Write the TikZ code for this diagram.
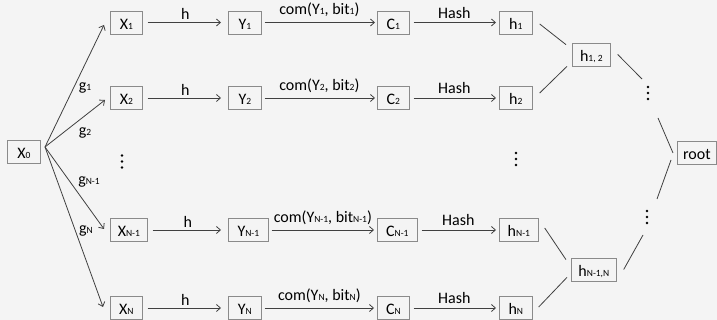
\documentclass[tikz,border=0pt]{standalone}
\usepackage{fontspec}
\setmainfont{Carlito}
\usetikzlibrary{arrows.meta}

\definecolor{bgcol}{HTML}{F4F4F4}
\definecolor{boxcol}{HTML}{8A8A8A}
\definecolor{arrcol}{HTML}{404040}

\newcommand{\sub}[1]{{\fontsize{9.5}{11}\selectfont #1}}

\tikzset{
  box/.style={draw=boxcol, line width=0.7pt, anchor=west, minimum width=32pt,
    inner xsep=5pt, inner ysep=0pt, minimum height=23pt, text height=13.5pt, text depth=0pt},
  arr/.style={draw=arrcol, line width=0.8pt, -{Straight Barb[length=4pt,width=7pt]}},
  tline/.style={draw=arrcol, line width=0.8pt},
  lbl/.style={anchor=base, inner sep=0pt},
  vdts/.pic={\fill (0,6) circle (1.3) (0,0) circle (1.3) (0,-6) circle (1.3);},
}

\begin{document}
\begin{tikzpicture}[x=1pt, y=1pt, font=\fontsize{16}{19}\selectfont]

\useasboundingbox[fill=bgcol] (0,0) rectangle (717,320);

% Define nodes
\path (7,168.5) node[box, minimum width=33pt] (X0) {X\sub{0}}
(110,297.5) node[box] (X1) {X\sub{1}}
(110,222) node[box] (X2) {X\sub{2}}
(110,90) node[box, minimum width=37pt] (X3) {X\sub{N-1}}
(110,12) node[box] (X4) {X\sub{N}}
(228,297.5) node[box, minimum width=33pt] (Y1) {Y\sub{1}}
(228,222) node[box, minimum width=33pt] (Y2) {Y\sub{2}}
(228,90) node[box, minimum width=40pt] (Y3) {Y\sub{N-1}}
(228,12) node[box, minimum width=33pt] (Y4) {Y\sub{N}}
(377,297.5) node[box] (C1) {C\sub{1}}
(377,222) node[box] (C2) {C\sub{2}}
(377,90) node[box, minimum width=40pt] (C3) {C\sub{N-1}}
(377,12) node[box] (C4) {C\sub{N}}
(499,297.5) node[box, minimum width=33pt] (h1) {h\sub{1}}
(499,222) node[box, minimum width=33pt] (h2) {h\sub{2}}
(499,90) node[box, minimum width=39pt] (h3) {h\sub{N-1}}
(499,12) node[box, minimum width=33pt] (h4) {h\sub{N}}
(572,265.5) node[box, minimum width=38pt] (h12) {h\sub{1, 2}}
(571,50.5) node[box, minimum width=45pt] (hNN) {h\sub{N-1,N}}
(677,167) node[box, minimum width=39pt] (root) {root}
;

% Dots
\path (122,158.5) coordinate (dotsA) pic {vdts}
(516,161) coordinate (dotsB) pic {vdts}
(648,227) coordinate (dotsU) pic {vdts}
(647,103) coordinate (dotsL) pic {vdts};

% Fan out of X0
\coordinate (fan) at (45,173);
\draw[arr] (fan) -- ([xshift=-6pt,yshift=-2.5pt]X1.west);
\draw[arr] (fan) -- ([xshift=-5pt,yshift=-2pt]X2.west);
\draw[arr] (fan) -- ([xshift=-6pt,yshift=1pt]X3.west);
\draw[arr] (fan) -- ([xshift=-7pt,yshift=1pt]X4.west);
\node (g1) at (85,232) {g\sub{1}};
\node (g2) at (85,187) {g\sub{2}};
\node (g3) at (89,138) {g\sub{N-1}};
\node (g4) at (86,89) {g\sub{N}};

% Rows
\draw[arr, shorten <=5pt, shorten >=7pt] (X1.east) -- node[lbl, yshift=2.5pt] {h} (Y1.west);
\draw[arr, shorten <=5pt, shorten >=7pt] (X2.east) -- node[lbl, yshift=2.5pt] {h} (Y2.west);
\draw[arr, shorten <=5pt, shorten >=7pt] (X3.east) -- node[lbl, yshift=2.5pt] {h} (Y3.west);
\draw[arr, shorten <=5pt, shorten >=7pt] (X4.east) -- node[lbl, yshift=2.5pt] {h} (Y4.west);
\draw[arr, shorten <=3pt, shorten >=2pt] (Y1.east) -- node[lbl, yshift=7.5pt] {com(Y\sub{1}, bit\sub{1})} (C1.west);
\draw[arr, shorten <=3pt, shorten >=2pt] (Y2.east) -- node[lbl, yshift=7.5pt] {com(Y\sub{2}, bit\sub{2})} (C2.west);
\draw[arr, shorten <=3pt, shorten >=3pt] (Y3.east) -- node[lbl, yshift=7.5pt] {com(Y\sub{N-1}, bit\sub{N-1})} (C3.west);
\draw[arr, shorten <=3pt, shorten >=3pt] (Y4.east) -- node[lbl, yshift=7.5pt] {com(Y\sub{N}, bit\sub{N})} (C4.west);
\draw[arr, shorten <=4pt, shorten >=3pt] (C1.east) -- node[lbl, yshift=4pt] {Hash} (h1.west);
\draw[arr, shorten <=4pt, shorten >=3pt] (C2.east) -- node[lbl, yshift=4pt] {Hash} (h2.west);
\draw[arr, shorten <=4pt, shorten >=3pt] (C3.east) -- node[lbl, yshift=4pt] {Hash} (h3.west);
\draw[arr, shorten <=4pt, shorten >=3pt] (C4.east) -- node[lbl, yshift=4pt] {Hash} (h4.west);

% Tree
\draw[tline] ([xshift=7pt,yshift=-1.5pt]h1.east) -- ([xshift=-6pt,yshift=-2pt]h12.north west);
\draw[tline] ([xshift=7pt,yshift=5pt]h2.east) -- ([xshift=-5pt]h12.south west);
\draw[tline] ([xshift=7pt]h12.east) -- ([xshift=-6pt,yshift=14pt]dotsU);
\draw[tline] ([xshift=10pt,yshift=-25pt]dotsU) -- ([xshift=-4pt]root.west);
\draw[tline] ([xshift=-6pt,yshift=-7pt]root.west) -- ([xshift=10pt,yshift=18pt]dotsL);
\draw[tline] ([xshift=-4pt,yshift=-18pt]dotsL) -- ([xshift=7pt]hNN.east);
\draw[tline] ([xshift=6pt,yshift=2pt]h3.east) -- ([xshift=-5pt,yshift=-2pt]hNN.north west);
\draw[tline] ([xshift=6pt,yshift=1pt]h4.east) -- ([xshift=-4pt,yshift=4pt]hNN.south west);

\end{tikzpicture}
\end{document}
